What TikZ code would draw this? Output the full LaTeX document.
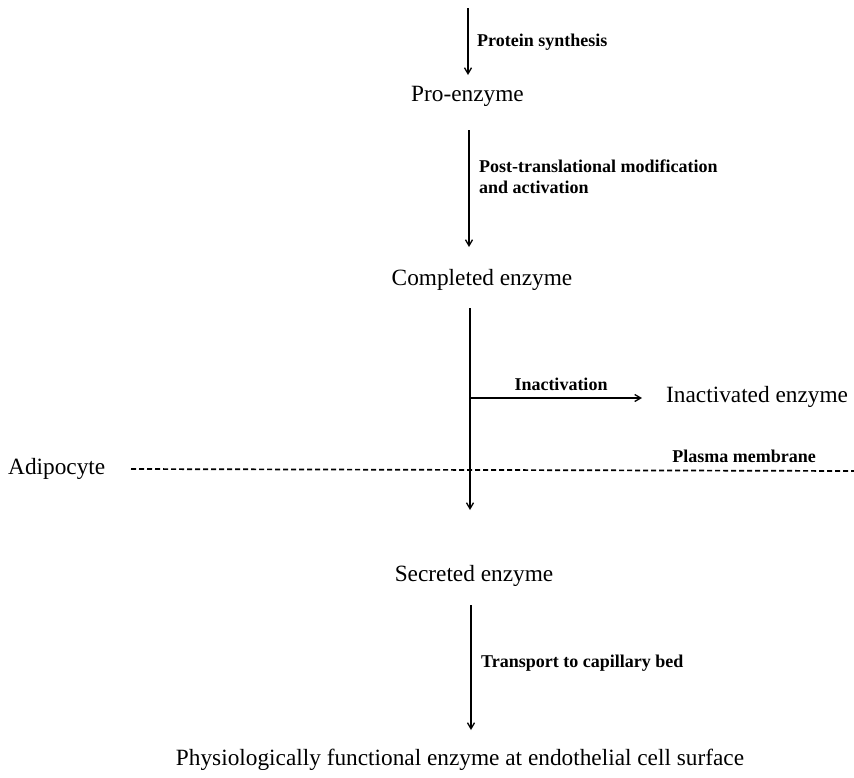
\documentclass[tikz,border=0pt]{standalone}
\usepackage{fontspec}
\setmainfont{Liberation Serif}
\usetikzlibrary{arrows.meta}
\begin{document}
\begin{tikzpicture}[x=1pt,y=-1pt,
  main/.style={font=\fontsize{23.3}{28}\selectfont, inner sep=0pt},
  lab/.style={font=\fontsize{18}{21}\selectfont\bfseries, inner sep=0pt, align=left},
  flow/.style={line width=1.3pt, -{Straight Barb[length=6pt,width=7pt]}},
  memb/.style={line width=1.7pt, dash pattern=on 5pt off 3pt}]
\useasboundingbox (0,0) rectangle (854,777);
\coordinate (s0) at (468,8);
\node[main] (pro) at (467.5,96) {Pro-enzyme};
\node[main] (comp) at (482,280) {Completed enzyme};
\node[main, anchor=west] (inact) at (666,397) {Inactivated enzyme};
\node[main, anchor=west] (adip) at (8,469) {Adipocyte};
\node[main] (secr) at (474,576) {Secreted enzyme};
\node[main] (phys) at (460,760) {Physiologically functional enzyme at endothelial cell surface};
\coordinate (m0) at (131,469);
\coordinate (m1) at (854,471);
\coordinate (br) at (470,398);
\node[lab, anchor=west] (l1) at (477,42) {Protein synthesis};
\node[lab, anchor=north west] (l2) at (479,160) {Post-translational modification\\and activation};
\node[lab] (l3) at (561,384) {Inactivation};
\node[lab] (l4) at (744,456) {Plasma membrane};
\node[lab, anchor=west] (l5) at (481,663) {Transport to capillary bed};
\draw[flow] (s0) -- (468,75);
\draw[flow] (469,130) -- (469,247);
\draw[flow] (470,308) -- (470,510);
\draw[flow] (br) -- (642,398);
\draw[flow] (471,605) -- (471,730);
\draw[memb] (m0) -- (m1);
\end{tikzpicture}
\end{document}
